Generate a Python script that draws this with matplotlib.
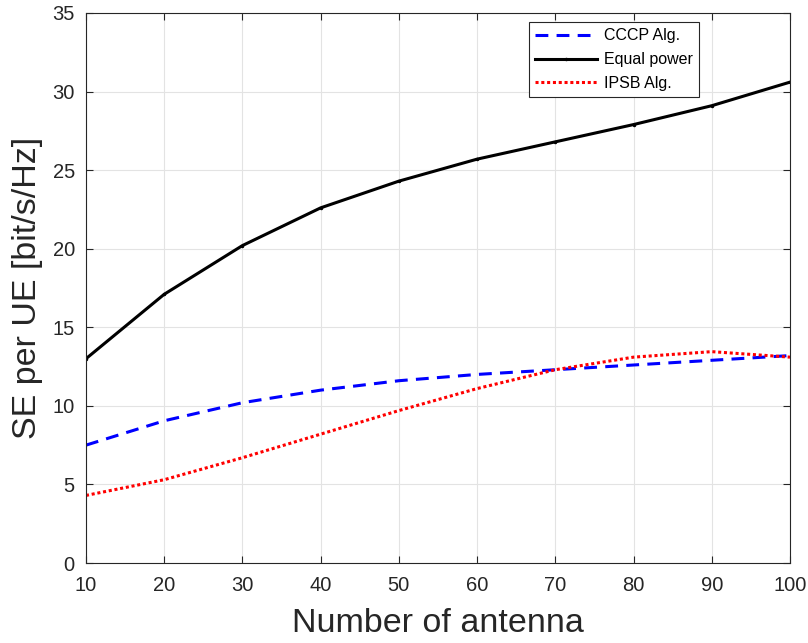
"""
Spectral efficiency per UE versus number of antennas
"""

import matplotlib
matplotlib.use("Agg")
import matplotlib.pyplot as plt

antennas = [10, 20, 30, 40, 50, 60, 70, 80, 90, 100]
se_cccp = [7.5, 9.05, 10.2, 11.0, 11.6, 12.0, 12.3, 12.6, 12.9, 13.2]
se_equal = [13.0, 17.1, 20.2, 22.6, 24.3, 25.7, 26.8, 27.9, 29.1, 30.6]
se_ipsb = [4.3, 5.3, 6.7, 8.2, 9.7, 11.1, 12.3, 13.1, 13.45, 13.1]

x_ticks = list(range(10, 101, 10))
y_ticks = list(range(0, 36, 5))


def plot_se_vs_antenna():
    plt.rcParams["font.family"] = ["Liberation Sans", "DejaVu Sans"]

    fig = plt.figure(figsize=(8.08, 6.43), dpi=100)
    ax = fig.add_axes([0.1064, 0.1244, 0.8713, 0.8554])

    ax.plot(antennas, se_cccp, color="#0000ff", linestyle=(0, (4.2, 2.7)),
            linewidth=2.2, label="CCCP Alg.")
    ax.plot(antennas, se_equal, color="black", linestyle="-", linewidth=2.2,
            marker=".", markersize=3, label="Equal power")
    ax.plot(antennas, se_ipsb, color="#ff0000", linestyle=(0, (1, 0.9)),
            linewidth=2.2, label="IPSB Alg.")

    ax.set_xlim(10, 100)
    ax.set_ylim(0, 35)
    ax.set_xticks(x_ticks)
    ax.set_yticks(y_ticks)
    ax.tick_params(direction="in", labelsize=14.5, length=5, width=0.8,
                   colors="#262626", top=True, right=True, pad=8)
    ax.tick_params(axis="x", pad=9)
    ax.tick_params(labeltop=False, labelright=False)
    for spine in ax.spines.values():
        spine.set_color("#262626")
        spine.set_linewidth(0.8)

    ax.grid(True, color="#e3e3e3", linewidth=0.8)
    ax.set_axisbelow(True)

    ax.set_xlabel("Number of antenna", fontsize=24.5, color="#262626", labelpad=10)
    ax.set_ylabel("SE per UE [bit/s/Hz]", fontsize=24.5, color="#262626", labelpad=7)

    leg = ax.legend(loc="upper left", bbox_to_anchor=(0.629, 0.9836),
                    fontsize=11.5, frameon=True, fancybox=False, handlelength=3.9,
                    borderpad=0.4, labelspacing=0.55, handletextpad=0.4,
                    borderaxespad=0)
    leg.get_frame().set_edgecolor("#262626")
    leg.get_frame().set_linewidth(0.8)
    leg.get_frame().set_alpha(1)

    fig.savefig("out.png", dpi=100)


if __name__ == "__main__":
    plot_se_vs_antenna()
